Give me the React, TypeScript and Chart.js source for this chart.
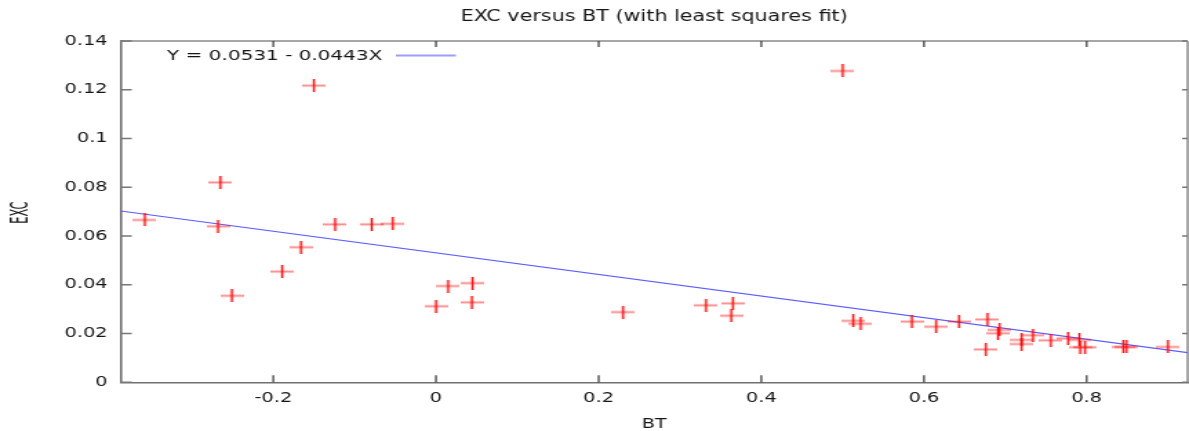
import { useEffect, useRef } from "react";
import { Chart, registerables } from "chart.js";

Chart.register(...registerables);

// Measured samples: BT (x) and EXC (y)
const btValues = [
  -0.358, -0.265, -0.268, -0.251, -0.189, -0.166, -0.15, -0.124, -0.079, -0.053,
  0.0, 0.015, 0.045, 0.044, 0.23, 0.332, 0.365, 0.363, 0.5, 0.513,
  0.522, 0.585, 0.615, 0.643, 0.678, 0.676, 0.693, 0.691, 0.72, 0.72,
  0.734, 0.756, 0.777, 0.791, 0.792, 0.798, 0.845, 0.849, 0.9,
];
const excValues = [
  0.0666, 0.082, 0.064, 0.0355, 0.0454, 0.0554, 0.1217, 0.0648, 0.0648, 0.065,
  0.0312, 0.0395, 0.0407, 0.0328, 0.0288, 0.0316, 0.0324, 0.0273, 0.1277, 0.0252,
  0.024, 0.0249, 0.0228, 0.0249, 0.0258, 0.0135, 0.0215, 0.0201, 0.0174, 0.0157,
  0.0193, 0.0172, 0.018, 0.0174, 0.0144, 0.0144, 0.0145, 0.0145, 0.0145,
];

// Least squares fit coefficients: Y = intercept + slope * X
const fitIntercept = 0.0531;
const fitSlope = -0.0443;

const xTicks = [-0.2, 0, 0.2, 0.4, 0.6, 0.8];
const yTicks = [0, 0.02, 0.04, 0.06, 0.08, 0.1, 0.12, 0.14];
const xRange = [-0.3876, 0.9241];
const yRange = [0, 0.14];
const yAxisTitle = "EXC";

const FONT = '"DejaVu Sans", Verdana, sans-serif';
const TEXT = "#161616";
const FIT_COLOR = "#5c5cff";

const fmt = (v: number) => String(Number(v.toFixed(4)));

function makeCross(): HTMLCanvasElement {
  const c = document.createElement("canvas");
  c.width = 17;
  c.height = 13;
  const g = c.getContext("2d")!;
  g.fillStyle = "rgba(255,0,0,0.45)";
  g.fillRect(0, 5.5, 17, 2);
  g.fillStyle = "#ff0000";
  g.fillRect(7.75, 0, 1.5, 13);
  return c;
}

const frameTicks = {
  id: "frameTicks",
  beforeDatasetsDraw(chart: any) {
    const { ctx, chartArea: a, scales } = chart;
    const x = scales.x;
    const y = scales.y;
    ctx.save();
    // top and right frame
    ctx.strokeStyle = "#8a8a8a";
    ctx.lineWidth = 1.5;
    ctx.beginPath();
    ctx.moveTo(a.left, a.top);
    ctx.lineTo(a.right, a.top);
    ctx.moveTo(a.right, a.top);
    ctx.lineTo(a.right, a.bottom);
    ctx.stroke();
    // inward x ticks, bottom and top
    ctx.strokeStyle = "#333";
    ctx.lineWidth = 1.2;
    ctx.beginPath();
    for (const v of xTicks) {
      const px = x.getPixelForValue(v);
      ctx.moveTo(px, a.bottom);
      ctx.lineTo(px, a.bottom - 7);
      ctx.moveTo(px, a.top);
      ctx.lineTo(px, a.top + 6);
    }
    ctx.stroke();
    // inward y ticks, left and right
    ctx.strokeStyle = "#777";
    ctx.lineWidth = 1.5;
    ctx.beginPath();
    for (const v of yTicks) {
      const py = y.getPixelForValue(v);
      ctx.moveTo(a.left, py);
      ctx.lineTo(a.left + 8, py);
      ctx.moveTo(a.right, py);
      ctx.lineTo(a.right - 4, py);
    }
    ctx.stroke();
    ctx.restore();
  },
};

// Key for the fit line and the compact rotated y-axis caption
const annotations = {
  id: "annotations",
  afterDraw(chart: any) {
    const { ctx, chartArea: a } = chart;
    const ds = chart.data.datasets[1];
    ctx.save();
    ctx.font = `14.5px ${FONT}`;
    ctx.fillStyle = TEXT;
    ctx.textAlign = "right";
    ctx.textBaseline = "middle";
    ctx.fillText(ds.label, a.left + 189.7, a.top + 15.5);
    ctx.strokeStyle = "rgba(92,92,255,0.6)";
    ctx.lineWidth = 2;
    ctx.beginPath();
    ctx.moveTo(a.left + 199.5, a.top + 14.5);
    ctx.lineTo(a.left + 243, a.top + 14.5);
    ctx.stroke();
    ctx.restore();

    ctx.save();
    ctx.translate(16, (a.top + a.bottom) / 2 + 1);
    ctx.rotate(-Math.PI / 2);
    ctx.scale(0.67, 1);
    ctx.font = `17px ${FONT}`;
    ctx.fillStyle = TEXT;
    ctx.textAlign = "center";
    ctx.textBaseline = "middle";
    ctx.fillText(yAxisTitle, 0, 0);
    ctx.restore();
  },
};

export default function App() {
  const ref = useRef<HTMLCanvasElement>(null);

  useEffect(() => {
    document.documentElement.style.overflow = "hidden";
    document.body.style.margin = "0";
    document.body.style.overflow = "hidden";
    const canvas = ref.current!;
    Chart.defaults.font.family = FONT;
    Chart.defaults.color = TEXT;

    const points = btValues.map((x, i) => ({ x, y: excValues[i] }));
    const fitLine = xRange.map((x) => ({ x, y: fitIntercept + fitSlope * x }));

    const chart = new Chart(canvas, {
      type: "scatter",
      data: {
        datasets: [
          {
            label: "EXC",
            data: points,
            pointStyle: makeCross() as any,
            pointRadius: 6,
            pointHoverRadius: 6,
          },
          {
            label: `Y = ${fitIntercept} - ${Math.abs(fitSlope)}X`,
            data: fitLine,
            showLine: true,
            borderColor: FIT_COLOR,
            borderWidth: 1.1,
            pointRadius: 0,
            pointHoverRadius: 0,
            fill: false,
          },
        ],
      },
      options: {
        animation: false,
        responsive: false,
        devicePixelRatio: 1,
        events: [],
        layout: { autoPadding: false, padding: { top: 0, left: 0, right: 1, bottom: 0 } },
        plugins: {
          legend: { display: false },
          tooltip: { enabled: false },
          title: {
            display: true,
            text: "EXC versus BT (with least squares fit)",
            fullSize: false,
            color: TEXT,
            font: { size: 15, weight: "normal", lineHeight: 1.2 },
            padding: { top: 8, bottom: 15 },
          },
        },
        scales: {
          x: {
            type: "linear",
            min: xRange[0],
            max: xRange[1],
            afterBuildTicks: (s: any) => {
              s.ticks = xTicks.map((v) => ({ value: v }));
            },
            afterFit: (s: any) => {
              s.height = 48.7;
              s.paddingLeft = 0;
              s.paddingRight = 0;
            },
            ticks: {
              callback: (v: any) => fmt(Number(v)),
              font: { size: 14 },
              color: TEXT,
              padding: 8,
              maxRotation: 0,
              autoSkip: false,
            },
            grid: { display: true, drawOnChartArea: false, drawTicks: false },
            border: { display: true, color: "#707070", width: 1.5 },
            title: {
              display: true,
              text: "BT",
              color: TEXT,
              font: { size: 14, lineHeight: 1.0 },
              padding: { top: 0, bottom: 0 },
            },
          },
          y: {
            type: "linear",
            min: yRange[0],
            max: yRange[1],
            afterBuildTicks: (s: any) => {
              s.ticks = yTicks.map((v) => ({ value: v }));
            },
            afterFit: (s: any) => {
              s.width = 87.5;
            },
            ticks: {
              callback: (v: any) => fmt(Number(v)),
              font: { size: 14 },
              color: TEXT,
              padding: 9.5,
              autoSkip: false,
            },
            grid: { display: true, drawOnChartArea: false, drawTicks: false },
            border: { display: true, color: "#666", width: 1.5 },
          },
        },
      },
      plugins: [frameTicks, annotations],
    });

    return () => chart.destroy();
  }, []);

  return (
    <div style={{ position: "absolute", left: 0, top: 0, width: 1189, height: 431, overflow: "hidden" }}>
      <canvas
        ref={ref}
        width={862}
        height={431}
        style={{ width: "1189px", height: "431px", display: "block" }}
      />
    </div>
  );
}
